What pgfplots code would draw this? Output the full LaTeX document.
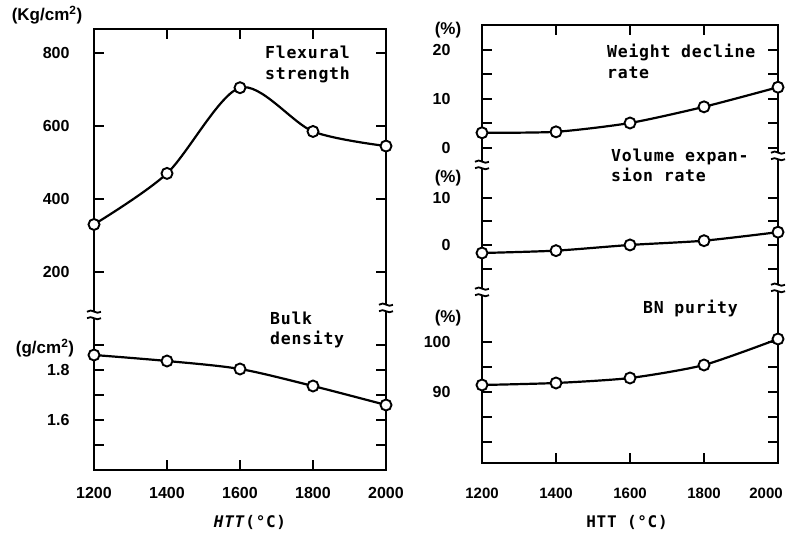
\documentclass[border=0pt]{standalone}
\usepackage{pgfplots}
\pgfplotsset{compat=1.18}
\usepackage{fontspec}
\setmainfont{Liberation Sans}
\newfontfamily\monof[LetterSpace=4.5]{DejaVu Sans Mono}

% wavy axis-break symbol across a vertical frame line
\newcommand{\brk}[2]{%
  \fill[white] (#1-8,#2-3.2) rectangle (#1+8,#2+3.2);
  \draw[line width=1.8pt] (#1-7,#2+3.2) .. controls (#1-2,#2+7.5) and (#1+2,#2-0.5) .. (#1+7,#2+3.2);
  \draw[line width=1.8pt] (#1-7,#2-3.2) .. controls (#1-2,#2+0.5) and (#1+2,#2-7) .. (#1+7,#2-3.2);
}

\pgfplotsset{
  frame/.style={
    scale only axis, xmin=1200, xmax=2000, ymin=0, ymax=1,
    ytick=\empty, xtick={1200,1400,1600,1800,2000},
    tick align=inside, major tick length=10pt,
    line width=2.8pt,
    axis line style={line width=2.8pt},
    tick style={line width=2pt, black},
  },
  seg/.style={
    scale only axis, xmin=1200, xmax=2000, xtick=\empty,
    axis line style={draw=none}, clip=false,
    tick align=inside, major tick length=10pt, ytick pos=both,
    yticklabel pos=left,
    tick style={line width=2pt, black},
    yticklabel style={font=\fontsize{16}{16}\selectfont\bfseries},
  },
  curve/.style={black, line width=2.2pt, smooth, mark=*,
    mark size=5.5pt, mark options={fill=white, draw=black, line width=1.9pt}},
}

\begin{document}
\begin{tikzpicture}[x=1pt,y=1pt]
\useasboundingbox (0,0) rectangle (786,534);

% ---------------- left panel ----------------
\begin{axis}[frame, at={(94pt,64pt)}, width=292pt, height=441pt,
  xticklabels={1200,1400,1600,1800,2000},
  xticklabel style={font=\fontsize{16}{16}\selectfont\bfseries, yshift=-13pt}]
\end{axis}

% flexural strength (kg/cm^2)
\begin{axis}[seg, at={(94pt,222pt)}, width=292pt, height=283pt,
  ymin=90, ymax=866, ytick={200,400,600,800},
  yticklabels={200,400,600,800},
  yticklabel style={xshift=-21pt}]
\addplot[curve] coordinates {
  (1200,330) (1400,470) (1600,705) (1800,585) (2000,545)};
\end{axis}

% bulk density (g/cm^3)
\begin{axis}[seg, at={(94pt,64pt)}, width=292pt, height=150pt,
  ymin=1.4, ymax=2.0, ytick={1.5,1.6,1.7,1.8,1.9},
  yticklabels={,1.6,,1.8,},
  yticklabel style={xshift=-21pt}]
\addplot[curve] coordinates {
  (1200,1.86) (1400,1.836) (1600,1.804) (1800,1.736) (2000,1.66)};
\end{axis}

% ---------------- right panel ----------------
\begin{axis}[frame, at={(482pt,71pt)}, width=296pt, height=438pt,
  xticklabels={1200,1400,1600,1800,\hspace*{-24pt}2000},
  xticklabel style={font=\fontsize{15}{15}\selectfont\bfseries, yshift=-20pt}]
\end{axis}

% weight decline rate (%)
\begin{axis}[seg, at={(482pt,374pt)}, width=296pt, height=135pt,
  ymin=-2.45, ymax=25.1, ytick={0,5,10,15,20},
  yticklabels={0,,10,,20},
  yticklabel style={xshift=-28pt}]
\addplot[curve, tension=0.4] coordinates {
  (1200,3.1) (1400,3.3) (1600,5.1) (1800,8.4) (2000,12.4)};
\end{axis}

% volume expansion rate (%)
\begin{axis}[seg, at={(482pt,244pt)}, width=296pt, height=128pt,
  ymin=-9.5, ymax=17.5, ytick={-5,0,5,10},
  yticklabels={,0,,10},
  yticklabel style={xshift=-28pt}]
\addplot[curve, tension=0.4] coordinates {
  (1200,-1.7) (1400,-1.2) (1600,0.0) (1800,0.9) (2000,2.7)};
\end{axis}

% BN purity (%)
\begin{axis}[seg, at={(482pt,71pt)}, width=296pt, height=173pt,
  ymin=75.8, ymax=110.4, ytick={80,85,90,95,100},
  yticklabels={,,90,,100},
  yticklabel style={xshift=-28pt}]
\addplot[curve, tension=0.4] coordinates {
  (1200,91.4) (1400,91.8) (1600,92.8) (1800,95.4) (2000,100.6)};
\end{axis}

% axis breaks
\brk{94}{219}
\brk{386}{226}
\brk{482}{369}
\brk{778}{378}
\brk{482}{242}
\brk{778}{246}

% units
\begin{scope}[every node/.style={font=\fontsize{17}{17}\selectfont\bfseries}]
\node at (47,519) {(Kg/cm\textsuperscript{2})};
\node at (45,186) {(g/cm\textsuperscript{2})};
\node at (448,504) {(\%)};
\node at (448,356) {(\%)};
\node at (448,216) {(\%)};
\end{scope}

% series names
\begin{scope}[every node/.style={anchor=base west, inner sep=0pt,
    font=\monof\fontsize{16.5}{16.5}\selectfont\bfseries}]
\node at (265,475) {Flexural};
\node at (265,454) {strength};
\node at (270,209) {Bulk};
\node at (270,189) {density};
\node at (607,476) {Weight decline};
\node at (607,455) {rate};
\node at (611,372) {Volume expan-};
\node at (611,352) {sion rate};
\node at (643,220) {BN purity};
\end{scope}

% x-axis titles
\node[font=\monof\fontsize{16}{16}\selectfont\bfseries] at (250,12) {\textit{HTT}(°C)};
\node[font=\monof\fontsize{16}{16}\selectfont\bfseries] at (627,12) {HTT (°C)};
\end{tikzpicture}
\end{document}
